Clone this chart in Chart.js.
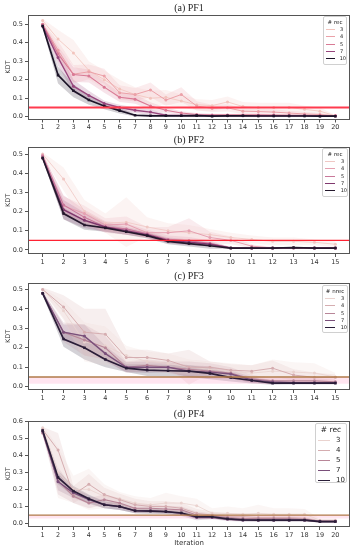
<!DOCTYPE html>
<html><head><meta charset="utf-8">
<script src="https://cdn.jsdelivr.net/npm/chart.js@4/dist/chart.umd.min.js"></script>
<style>
html,body{margin:0;padding:0;background:#fff;}
body{width:358px;height:550px;position:relative;overflow:hidden;font-family:"DejaVu Sans",sans-serif;}
.wrap{position:absolute;left:0;width:358px;}
.lg{position:absolute;background:rgba(255,255,255,0.85);border:1px solid #d0d0d0;border-radius:2px;box-sizing:border-box;color:#222;}
.lg .t{text-align:center;}
.lg .r{display:flex;align-items:center;}
.lg .s{display:inline-block;}
</style></head>
<body>
<div class="wrap" style="top:0;height:132px"><canvas id="c1"></canvas></div>
<div class="wrap" style="top:132px;height:134px"><canvas id="c2"></canvas></div>
<div class="wrap" style="top:268px;height:134px"><canvas id="c3"></canvas></div>
<div class="wrap" style="top:406px;height:144px"><canvas id="c4"></canvas></div>
<div id="lg1" class="lg" style="left:323px;top:16px;width:24px;height:49px"></div>
<div id="lg2" class="lg" style="left:322px;top:148px;width:26px;height:49px"></div>
<div id="lg3" class="lg" style="left:322px;top:285px;width:26px;height:48px"></div>
<div id="lg4" class="lg" style="left:315px;top:423px;width:32px;height:60px"></div>
<script>
// ---------- data ----------
const iters20 = [1,2,3,4,5,6,7,8,9,10,11,12,13,14,15,16,17,18,19,20];
const iters15 = [1,2,3,4,5,6,7,8,9,10,11,12,13,14,15];
const recLabels = ['3','4','5','7','10'];
const yTicks5 = [0.0,0.1,0.2,0.3,0.4,0.5];
const yTicks6 = [0.0,0.1,0.2,0.3,0.4,0.5,0.6];
const threshold = 0.05;

// PF1
const pf1_r3   = [0.52,0.42,0.345,0.25,0.20,0.15,0.12,0.10,0.105,0.085,0.065,0.06,0.08,0.055,0.05,0.05,0.05,0.04,0.03,0.005];
const pf1_r3ci = [0.01,0.05,0.07,0.05,0.05,0.05,0.04,0.04,0.04,0.035,0.03,0.03,0.03,0.025,0.025,0.025,0.025,0.02,0.02,0.005];
const pf1_r4   = [0.50,0.36,0.23,0.243,0.22,0.13,0.12,0.145,0.09,0.12,0.058,0.045,0.048,0.03,0.028,0.025,0.02,0.015,0.012,0.005];
const pf1_r4ci = [0.01,0.05,0.05,0.04,0.04,0.04,0.035,0.04,0.03,0.04,0.025,0.02,0.02,0.015,0.015,0.015,0.012,0.01,0.008,0.004];
const pf1_r5   = [0.50,0.34,0.228,0.22,0.16,0.105,0.095,0.058,0.035,0.02,0.012,0.01,0.01,0.01,0.01,0.009,0.008,0.008,0.006,0.005];
const pf1_r5ci = [0.01,0.04,0.04,0.035,0.03,0.025,0.025,0.02,0.015,0.01,0.008,0.006,0.006,0.006,0.006,0.005,0.005,0.005,0.004,0.003];
const pf1_r7   = [0.49,0.32,0.165,0.115,0.072,0.05,0.035,0.025,0.008,0.007,0.007,0.005,0.005,0.005,0.005,0.005,0.005,0.005,0.004,0.004];
const pf1_r7ci = [0.01,0.045,0.035,0.025,0.015,0.015,0.015,0.015,0.008,0.005,0.005,0.004,0.004,0.004,0.004,0.004,0.004,0.004,0.003,0.003];
const pf1_r10  = [0.49,0.225,0.14,0.09,0.058,0.033,0.008,0.005,0.005,0.005,0.006,0.003,0.005,0.005,0.004,0.004,0.004,0.004,0.003,0.003];
const pf1_r10ci= [0.01,0.045,0.035,0.025,0.018,0.015,0.007,0.004,0.003,0.003,0.003,0.003,0.003,0.003,0.003,0.003,0.003,0.003,0.003,0.003];

// PF2
const pf2_r3   = [0.50,0.37,0.20,0.14,0.145,0.12,0.10,0.09,0.08,0.065,0.055,0.045,0.045,0.04,0.03];
const pf2_r3ci = [0.01,0.06,0.06,0.05,0.13,0.05,0.04,0.04,0.03,0.025,0.02,0.02,0.02,0.015,0.015];
const pf2_r4   = [0.495,0.23,0.19,0.13,0.135,0.09,0.09,0.10,0.065,0.05,0.02,0.01,0.01,0.01,0.01];
const pf2_r4ci = [0.01,0.05,0.04,0.035,0.04,0.03,0.03,0.065,0.03,0.02,0.01,0.006,0.005,0.005,0.005];
const pf2_r5   = [0.49,0.235,0.17,0.12,0.11,0.085,0.055,0.048,0.035,0.01,0.01,0.01,0.01,0.01,0.01];
const pf2_r5ci = [0.01,0.05,0.04,0.03,0.03,0.02,0.02,0.02,0.015,0.005,0.005,0.005,0.005,0.005,0.005];
const pf2_r7   = [0.48,0.21,0.155,0.12,0.10,0.08,0.05,0.04,0.03,0.01,0.01,0.01,0.012,0.01,0.01];
const pf2_r7ci = [0.01,0.05,0.04,0.025,0.02,0.015,0.015,0.015,0.012,0.005,0.004,0.004,0.004,0.004,0.004];
const pf2_r10  = [0.48,0.19,0.13,0.115,0.095,0.075,0.045,0.033,0.022,0.01,0.01,0.01,0.012,0.01,0.01];
const pf2_r10ci= [0.01,0.03,0.025,0.02,0.015,0.015,0.015,0.015,0.015,0.004,0.004,0.004,0.004,0.004,0.004];

// PF3
const pf3_r3   = [0.50,0.39,0.23,0.21,0.16,0.13,0.12,0.10,0.09,0.08,0.07,0.08,0.075,0.07,0.05];
const pf3_r3ci = [0.01,0.05,0.10,0.10,0.05,0.05,0.05,0.04,0.04,0.04,0.04,0.06,0.05,0.05,0.02];
const pf3_r4   = [0.50,0.41,0.28,0.27,0.15,0.15,0.135,0.10,0.10,0.085,0.08,0.095,0.06,0.048,0.048];
const pf3_r4ci = [0.01,0.06,0.12,0.13,0.04,0.04,0.035,0.09,0.03,0.03,0.03,0.04,0.03,0.025,0.015];
const pf3_r5   = [0.48,0.28,0.24,0.20,0.10,0.11,0.10,0.09,0.08,0.07,0.04,0.03,0.03,0.03,0.025];
const pf3_r5ci = [0.01,0.05,0.08,0.06,0.03,0.03,0.03,0.04,0.04,0.03,0.02,0.015,0.015,0.015,0.01];
const pf3_r7   = [0.48,0.28,0.26,0.17,0.10,0.10,0.10,0.08,0.075,0.065,0.035,0.025,0.02,0.02,0.02];
const pf3_r7ci = [0.01,0.04,0.06,0.04,0.025,0.03,0.025,0.03,0.03,0.02,0.015,0.01,0.008,0.008,0.008];
const pf3_r10  = [0.48,0.245,0.20,0.14,0.095,0.085,0.082,0.08,0.068,0.047,0.032,0.018,0.018,0.018,0.018];
const pf3_r10ci= [0.01,0.04,0.06,0.04,0.02,0.03,0.03,0.03,0.03,0.02,0.015,0.008,0.006,0.006,0.006];

// PF4
const pf4_r3   = [0.56,0.30,0.20,0.20,0.16,0.145,0.12,0.11,0.12,0.12,0.105,0.06,0.06,0.055,0.06,0.055,0.055,0.055,0.02,0.02];
const pf4_r3ci = [0.015,0.15,0.08,0.12,0.07,0.04,0.04,0.04,0.06,0.04,0.04,0.03,0.04,0.035,0.05,0.035,0.035,0.03,0.01,0.01];
const pf4_r4   = [0.55,0.43,0.17,0.23,0.17,0.14,0.11,0.10,0.10,0.09,0.06,0.05,0.04,0.04,0.035,0.035,0.035,0.03,0.015,0.015];
const pf4_r4ci = [0.015,0.10,0.05,0.06,0.04,0.035,0.035,0.03,0.03,0.03,0.025,0.02,0.02,0.02,0.015,0.015,0.015,0.015,0.008,0.008];
const pf4_r5   = [0.53,0.25,0.16,0.12,0.14,0.12,0.09,0.09,0.085,0.08,0.05,0.045,0.035,0.03,0.03,0.03,0.03,0.025,0.015,0.015];
const pf4_r5ci = [0.015,0.08,0.04,0.03,0.03,0.03,0.025,0.025,0.02,0.02,0.02,0.015,0.015,0.012,0.012,0.012,0.012,0.012,0.008,0.008];
const pf4_r7   = [0.54,0.245,0.18,0.14,0.11,0.10,0.075,0.075,0.07,0.06,0.035,0.035,0.025,0.02,0.02,0.02,0.02,0.02,0.012,0.012];
const pf4_r7ci = [0.015,0.05,0.03,0.025,0.02,0.02,0.015,0.015,0.015,0.015,0.015,0.01,0.01,0.008,0.008,0.008,0.008,0.008,0.006,0.006];
const pf4_r10  = [0.545,0.27,0.19,0.145,0.11,0.10,0.075,0.073,0.07,0.062,0.04,0.04,0.028,0.022,0.02,0.02,0.02,0.02,0.012,0.012];
const pf4_r10ci= [0.015,0.04,0.03,0.025,0.02,0.02,0.015,0.015,0.012,0.012,0.012,0.01,0.008,0.008,0.008,0.008,0.008,0.008,0.006,0.006];

// ---------- styles ----------
const pal1 = ['#f2c4bd','#eba1a8','#d97a95','#98467d','#1c1428'];
const pal2 = ['#f0c8c4','#e5a0b0','#c9789a','#80386e','#24182c'];
const pal3 = ['#ead3cf','#d5adb0','#b88698','#7a4f7a','#2a1d38'];
const lineW = [0.8,1,1.1,1.4,1.7];

function rgba(hex,a){const n=parseInt(hex.slice(1),16);return `rgba(${n>>16&255},${n>>8&255},${n&255},${a})`;}

const boxPlugin = {
  id:'boxPlugin',
  afterDatasetsDraw(chart){
    const a=chart.chartArea, c=chart.ctx;
    c.save(); c.strokeStyle='#555'; c.lineWidth=1;
    c.strokeRect(Math.round(a.left)+0.5,Math.round(a.top)+0.5,Math.round(a.right-a.left)-1,Math.round(a.bottom-a.top)-1);
    c.restore();
  }
};

function build(id, o){
  const ds=[];
  o.series.forEach((s,k)=>{
    const col=o.pal[k];
    const hi=s.mean.map((m,i)=>({x:o.iters[i],y:m+s.ci[i]}));
    const lo=s.mean.map((m,i)=>({x:o.iters[i],y:Math.max(m-s.ci[i],0)}));
    ds.push({data:hi,borderWidth:0,pointRadius:0,fill:'+1',backgroundColor:rgba(col,0.2),order:20});
    ds.push({data:lo,borderWidth:0,pointRadius:0,fill:false,order:20});
  });
  if(o.band){
    ds.push({data:[{x:o.xMin,y:o.band[1]},{x:o.xMax,y:o.band[1]}],borderWidth:0,pointRadius:0,fill:'+1',backgroundColor:o.bandColor,order:15});
    ds.push({data:[{x:o.xMin,y:o.band[0]},{x:o.xMax,y:o.band[0]}],borderWidth:0,pointRadius:0,fill:false,order:15});
  }
  ds.push({data:[{x:o.xMin,y:threshold},{x:o.xMax,y:threshold}],borderColor:o.hColor,borderWidth:o.hWidth,pointRadius:0,fill:false,order:o.hOrder});
  o.series.forEach((s,k)=>{
    const col=o.pal[k];
    ds.push({data:s.mean.map((m,i)=>({x:o.iters[i],y:m})),borderColor:col,borderWidth:lineW[k],
      pointRadius:k===4?1.8:1.5,pointStyle:k===4?'rect':'circle',pointBackgroundColor:col,pointBorderWidth:0,
      fill:false,tension:0,order:10-k});
  });
  new Chart(document.getElementById(id),{
    type:'line',
    data:{datasets:ds},
    plugins:[boxPlugin],
    options:{
      responsive:true,maintainAspectRatio:false,animation:false,devicePixelRatio:1,
      layout:{padding:{left:0,right:8,top:0,bottom:0}},
      plugins:{legend:{display:false},tooltip:{enabled:false},
        title:{display:true,text:o.title,fullSize:false,color:'#222',
          font:{family:'"Liberation Serif",serif',size:10,weight:'normal',lineHeight:1.2},padding:{top:2,bottom:1}}},
      scales:{
        x:{type:'linear',min:o.xMin,max:o.xMax,
          afterBuildTicks:sc=>{sc.ticks=o.iters.map(v=>({value:v}));},
          afterFit:sc=>{sc.height=o.xh;},
          border:{display:false},
          grid:{drawOnChartArea:false,drawTicks:true,tickLength:3,color:'#555'},
          ticks:{font:{family:'"DejaVu Sans"',size:6.5},color:'#333',padding:1,maxRotation:0,autoSkip:false,
            callback:v=>String(v)},
          title:{display:!!o.xTitle,text:o.xTitle||'',font:{family:'"DejaVu Sans"',size:7},color:'#333',padding:{top:0,bottom:3}}
        },
        y:{type:'linear',min:o.yMin,max:o.yMax,
          afterBuildTicks:sc=>{sc.ticks=o.yTicks.map(v=>({value:v}));},
          afterFit:sc=>{sc.width=28;},
          border:{display:false},
          grid:{drawOnChartArea:false,drawTicks:true,tickLength:3,color:'#555'},
          ticks:{font:{family:'"DejaVu Sans"',size:6.5},color:'#333',padding:2,callback:v=>v.toFixed(1)},
          title:{display:true,text:'KDT',font:{family:'"DejaVu Sans"',size:6.5},color:'#333',padding:{top:4,bottom:0}}
        }
      }
    }
  });
}

function ser(arrs){return arrs.map(a=>({mean:a[0],ci:a[1]}));}

build('c1',{iters:iters20,pal:pal1,title:'(a) PF1',xMin:0.05,xMax:20.95,yMin:-0.015,yMax:0.55,yTicks:yTicks5,xh:12.5,
  hColor:'#ff3b4e',hWidth:2,hOrder:3,
  series:ser([[pf1_r3,pf1_r3ci],[pf1_r4,pf1_r4ci],[pf1_r5,pf1_r5ci],[pf1_r7,pf1_r7ci],[pf1_r10,pf1_r10ci]])});
build('c2',{iters:iters15,pal:pal2,title:'(b) PF2',xMin:0.3,xMax:15.7,yMin:-0.021,yMax:0.537,yTicks:yTicks5,xh:12,
  hColor:'#ff2233',hWidth:1.2,hOrder:3,
  series:ser([[pf2_r3,pf2_r3ci],[pf2_r4,pf2_r4ci],[pf2_r5,pf2_r5ci],[pf2_r7,pf2_r7ci],[pf2_r10,pf2_r10ci]])});
build('c3',{iters:iters15,pal:pal3,title:'(c) PF3',xMin:0.3,xMax:15.7,yMin:-0.017,yMax:0.533,yTicks:yTicks5,xh:12,
  hColor:'#b07a48',hWidth:1.5,hOrder:3,band:[0.015,0.05],bandColor:'rgba(255,170,205,0.3)',
  series:ser([[pf3_r3,pf3_r3ci],[pf3_r4,pf3_r4ci],[pf3_r5,pf3_r5ci],[pf3_r7,pf3_r7ci],[pf3_r10,pf3_r10ci]])});
build('c4',{iters:iters20,pal:pal3,title:'(d) PF4',xMin:0.05,xMax:20.95,yMin:-0.02,yMax:0.6,yTicks:yTicks6,xh:23,xTitle:'Iteration',
  hColor:'#b07a48',hWidth:1.2,hOrder:3,band:[0.03,0.05],bandColor:'rgba(255,170,205,0.3)',
  series:ser([[pf4_r3,pf4_r3ci],[pf4_r4,pf4_r4ci],[pf4_r5,pf4_r5ci],[pf4_r7,pf4_r7ci],[pf4_r10,pf4_r10ci]])});

// ---------- legends ----------
function legend(id,title,pal,fs,titleLh,rowLh,padTop,lineLen){
  const el=document.getElementById(id);
  let h=`<div class="t" style="font-size:${fs+0.5}px;line-height:${titleLh}px;padding-top:${padTop}px">${title}</div>`;
  recLabels.forEach((l,k)=>{
    h+=`<div class="r" style="font-size:${fs}px;line-height:${rowLh}px;height:${rowLh}px;padding-left:2px">`+
       `<span class="s" style="width:${lineLen}px;border-top:${lineW[k]+0.2}px solid ${pal[k]}"></span>`+
       `<span style="margin-left:${lineLen>9?6:5}px">${l}</span></div>`;
  });
  el.innerHTML=h;
}
legend('lg1','# rec',pal1,5,7,7.3,2,9);
legend('lg2','# rec',pal2,5,7,7.3,2,10);
legend('lg3','# nrec',pal3,5,7,7.3,2,10);
legend('lg4','# rec',pal3,7,10,10,1,12);
</script>
</body></html>
